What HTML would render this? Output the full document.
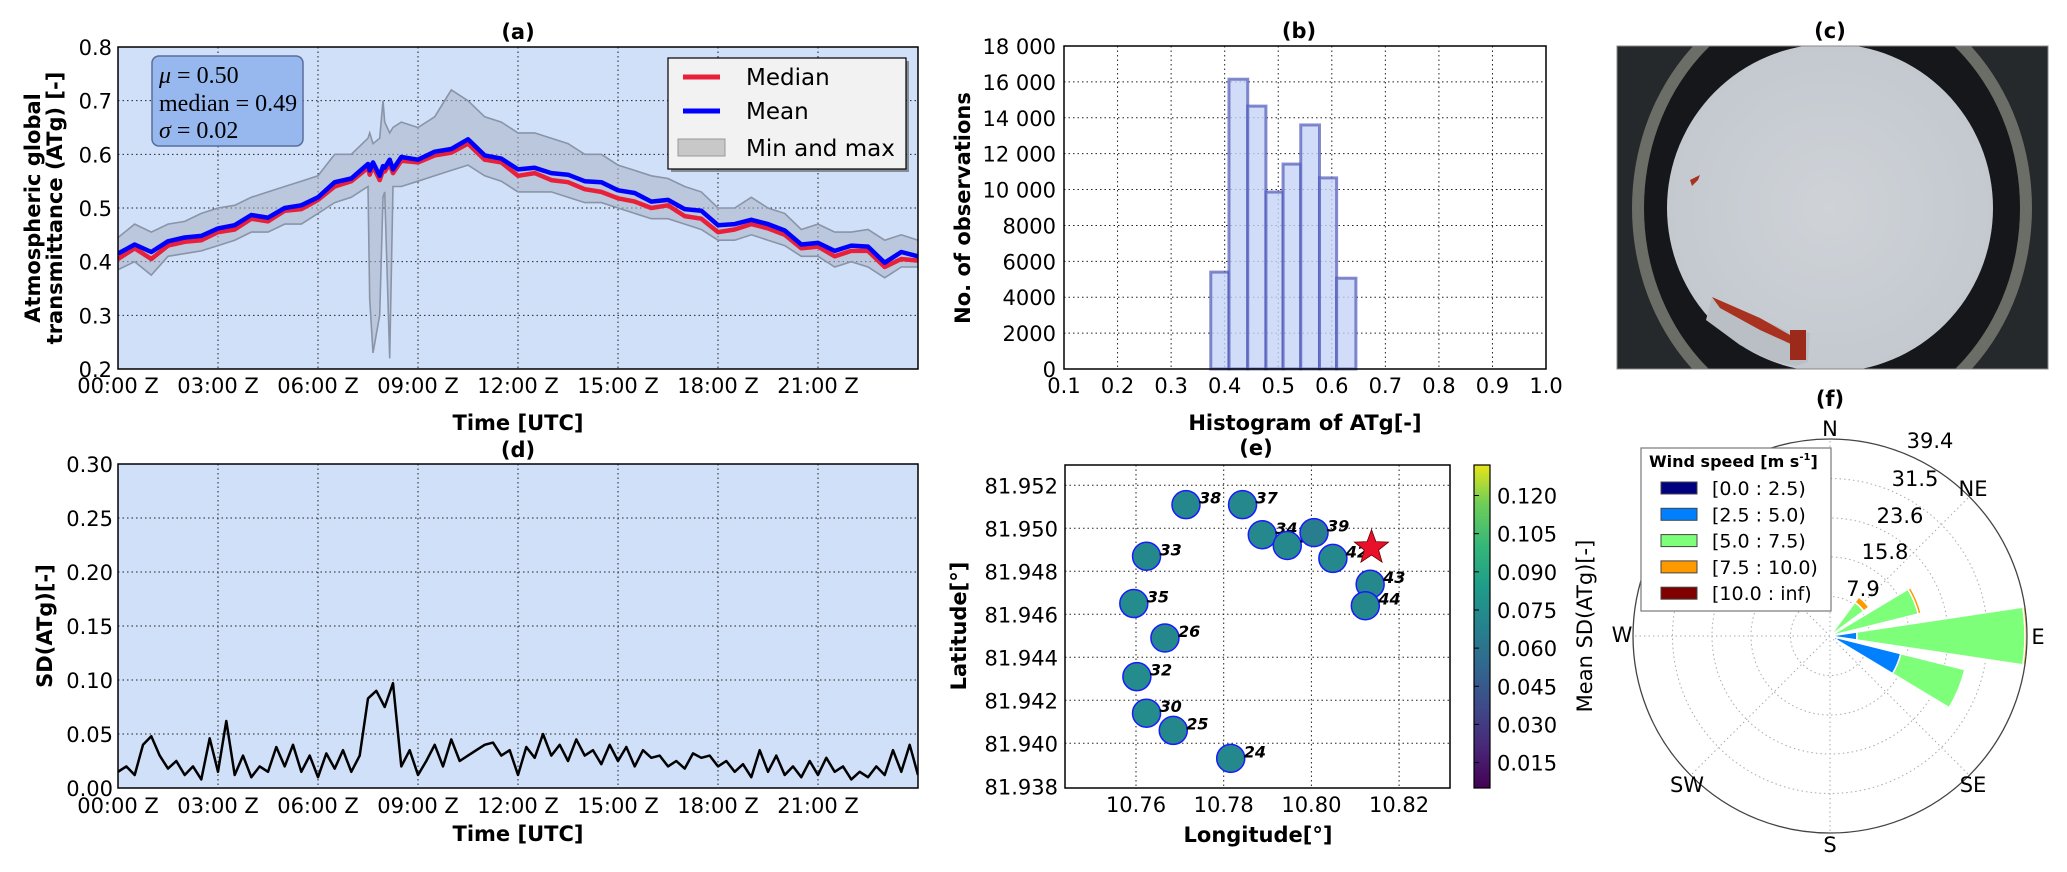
<!DOCTYPE html>
<html><head><meta charset="utf-8"><style>
html,body{margin:0;padding:0;background:#fff}
svg{display:block}
text{font-family:"DejaVu Sans","Liberation Sans",sans-serif}
text.serif{font-family:"Liberation Serif","DejaVu Serif",serif}
.t{font-size:21px;fill:#000}
.b{font-weight:bold}
</style></head><body>
<svg id="fig" width="2067" height="872" viewBox="0 0 2067 872" xmlns="http://www.w3.org/2000/svg">
<defs>
<linearGradient id="viridis" x1="0" y1="1" x2="0" y2="0">
<stop offset="0" stop-color="#440154"/><stop offset="0.13" stop-color="#482878"/><stop offset="0.25" stop-color="#3e4a89"/><stop offset="0.38" stop-color="#31688e"/><stop offset="0.5" stop-color="#26828e"/><stop offset="0.63" stop-color="#1f9e89"/><stop offset="0.75" stop-color="#35b779"/><stop offset="0.88" stop-color="#6ece58"/><stop offset="1" stop-color="#e7e419"/>
</linearGradient>
<radialGradient id="sky" cx="0.5" cy="0.5" r="0.5"><stop offset="0" stop-color="#cfd3d8"/><stop offset="1" stop-color="#c3c9cf"/></radialGradient>
<clipPath id="clipA"><rect x="118" y="47" width="800" height="322"/></clipPath>
<clipPath id="clipD"><rect x="118" y="464" width="800" height="324"/></clipPath>
<clipPath id="clipC"><rect x="1617" y="46" width="431" height="323"/></clipPath>
</defs>

<!-- panel a -->
<g id="pa">
<rect x="118" y="47" width="800" height="322" fill="#d0e0f8"/>
<g id="gridA"></g>
<g id="marksA" clip-path="url(#clipA)"></g>
<rect x="118" y="47" width="800" height="322" fill="none" stroke="#000" stroke-width="1.5"/>
<g id="ticksA"></g>
<text class="t b" x="518" y="39" text-anchor="middle" font-size="20">(a)</text>
<text class="t b" transform="translate(40,208) rotate(-90)" text-anchor="middle">Atmospheric    global</text>
<text class="t b" transform="translate(62,208) rotate(-90)" text-anchor="middle">transmittance (ATg) [-]</text>
<text class="t b" x="518" y="430" text-anchor="middle">Time [UTC]</text>
<g>
<rect x="152" y="56" width="151" height="90" rx="7" fill="#97b8ee" stroke="#5a6e9c" stroke-width="1.5"/>
<text class="serif" x="159" y="83" font-size="24"><tspan font-style="italic">μ</tspan> = 0.50</text>
<text class="serif" x="159" y="111" font-size="24">median = 0.49</text>
<text class="serif" x="159" y="138" font-size="24"><tspan font-style="italic">σ</tspan> = 0.02</text>
</g>
<g>
<rect x="671" y="61" width="238" height="111" fill="#555" opacity="0.6"/>
<rect x="668" y="58" width="238" height="111" fill="#f2f2f2" stroke="#000" stroke-width="1.2"/>
<line x1="683" y1="77" x2="720" y2="77" stroke="#e8203a" stroke-width="5"/>
<text x="746" y="85" font-size="23">Median</text>
<line x1="683" y1="111" x2="720" y2="111" stroke="#0000ff" stroke-width="5"/>
<text x="746" y="119" font-size="23">Mean</text>
<rect x="678" y="139" width="47" height="17" fill="#c8c8c8" stroke="#999"/>
<text x="746" y="156" font-size="23">Min and max</text>
</g>
</g>

<!-- panel b -->
<g id="pb">
<rect x="1064" y="46" width="482" height="323" fill="#fff"/>
<g id="gridB"></g>
<g id="marksB"></g>
<rect x="1064" y="46" width="482" height="323" fill="none" stroke="#000" stroke-width="1.5"/>
<g id="ticksB"></g>
<text class="t b" x="1299" y="38" text-anchor="middle" font-size="20">(b)</text>
<text class="t b" transform="translate(970,208) rotate(-90)" text-anchor="middle">No. of observations</text>
<text class="t b" x="1305" y="430" text-anchor="middle">Histogram of ATg[-]</text>
</g>

<!-- panel c -->
<g id="pc">
<text class="t b" x="1830" y="38" text-anchor="middle" font-size="20">(c)</text>
<g clip-path="url(#clipC)">
<rect x="1617" y="46" width="431" height="323" fill="#25292b"/>
<ellipse cx="1832" cy="208" rx="200" ry="225" fill="#6b6e66"/>
<ellipse cx="1832" cy="208" rx="188" ry="213" fill="#15171a"/>
<ellipse cx="1830" cy="208" rx="163" ry="164" fill="url(#sky)"/>
<polygon points="1712,297 1745,312 1790,332 1800,330 1810,333 1808,362 1796,366 1770,360 1740,345 1706,320" fill="#b9bfc4"/>
<polygon points="1712,297 1760,318 1790,335 1793,345 1760,330 1720,308" fill="#a8321f"/>
<rect x="1790" y="330" width="16" height="30" fill="#9b2a1a"/>
<polygon points="1690,180 1700,175 1698,180 1692,186" fill="#a8321f"/>
</g>
<rect x="1617" y="46" width="431" height="323" fill="none" stroke="#888" stroke-width="1"/>
</g>

<!-- panel d -->
<g id="pd">
<rect x="118" y="464" width="800" height="324" fill="#d0e0f8"/>
<g id="gridD"></g>
<g id="marksD" clip-path="url(#clipD)"></g>
<rect x="118" y="464" width="800" height="324" fill="none" stroke="#000" stroke-width="1.5"/>
<g id="ticksD"></g>
<text class="t b" x="518" y="457" text-anchor="middle" font-size="20">(d)</text>
<text class="t b" transform="translate(52,626) rotate(-90)" text-anchor="middle">SD(ATg)[-]</text>
<text class="t b" x="518" y="841" text-anchor="middle">Time [UTC]</text>
</g>

<!-- panel e -->
<g id="pe">
<rect x="1065" y="465" width="385" height="323" fill="#fff"/>
<g id="gridE"></g>
<g id="marksE"></g>
<rect x="1065" y="465" width="385" height="323" fill="none" stroke="#000" stroke-width="1.5"/>
<g id="ticksE"></g>
<text class="t b" x="1256" y="455" text-anchor="middle" font-size="20">(e)</text>
<text class="t b" transform="translate(966,626) rotate(-90)" text-anchor="middle">Latitude[°]</text>
<text class="t b" x="1258" y="842" text-anchor="middle">Longitude[°]</text>
<rect x="1474" y="465" width="16" height="323" fill="url(#viridis)" stroke="#000" stroke-width="1.2"/>
<g id="ticksCB"></g>
<text class="t" transform="translate(1592,626) rotate(-90)" text-anchor="middle">Mean SD(ATg)[-]</text>
</g>

<!-- panel f -->
<g id="pf">
<text class="t b" x="1830" y="406" text-anchor="middle" font-size="20">(f)</text>
<g id="gridF"></g>
<g id="marksF"></g>
<circle cx="1830" cy="636" r="197" fill="none" stroke="#444" stroke-width="1.3"/>
<g id="labelsF"></g>
<g>
<rect x="1641" y="448" width="190" height="163" fill="#fff" stroke="#777" stroke-width="1.2"/>
<text x="1649" y="467" font-size="16" font-weight="bold">Wind speed [m s<tspan font-size="10" dy="-7">-1</tspan><tspan dy="7">]</tspan></text>
<g id="legendF"></g>
</g>
</g>
</svg>

<script>
// ---------- data: panel (a) ----------
const timesA = [0,0.5,1,1.5,2,2.5,3,3.5,4,4.5,5,5.5,6,6.5,7,7.5,7.55,7.65,7.85,7.95,8,8.15,8.25,8.5,9,9.5,10,10.5,11,11.5,12,12.5,13,13.5,14,14.5,15,15.5,16,16.5,17,17.5,18,18.5,19,19.5,20,20.5,21,21.5,22,22.5,23,23.5,24];
const meanA = [.415,.432,.418,.438,.445,.448,.462,.468,.487,.482,.50,.505,.52,.548,.555,.582,.57,.585,.56,.578,.575,.59,.572,.595,.59,.605,.61,.628,.598,.592,.572,.575,.565,.562,.55,.548,.533,.528,.512,.515,.498,.495,.468,.47,.478,.47,.458,.432,.435,.42,.43,.428,.398,.418,.41];
const medianA = [.405,.425,.405,.43,.437,.44,.455,.46,.48,.475,.495,.498,.515,.54,.55,.575,.562,.578,.552,.57,.568,.582,.565,.588,.585,.598,.603,.62,.59,.585,.56,.565,.552,.548,.535,.53,.518,.512,.5,.505,.485,.48,.455,.46,.47,.462,.45,.425,.428,.41,.42,.42,.39,.405,.402];
const maxA = [.445,.47,.455,.47,.475,.49,.5,.505,.52,.53,.54,.55,.56,.6,.6,.63,.64,.62,.63,.7,.66,.64,.65,.66,.65,.67,.72,.7,.67,.66,.64,.64,.63,.62,.6,.6,.58,.57,.56,.555,.54,.53,.5,.5,.52,.5,.49,.46,.47,.455,.455,.46,.44,.45,.44];
const minA = [.385,.4,.375,.41,.415,.42,.43,.44,.455,.455,.47,.47,.49,.51,.52,.54,.33,.23,.3,.52,.53,.22,.54,.54,.55,.56,.57,.58,.56,.55,.53,.53,.53,.52,.51,.51,.5,.49,.48,.48,.47,.46,.44,.44,.45,.44,.43,.41,.41,.39,.4,.39,.37,.39,.39];
const hourTicks = [0,3,6,9,12,15,18,21];
const hourLabels = ["00:00 Z","03:00 Z","06:00 Z","09:00 Z","12:00 Z","15:00 Z","18:00 Z","21:00 Z"];
const yTicksA = [0.2,0.3,0.4,0.5,0.6,0.7,0.8];
// ---------- data: panel (b) ----------
const binEdges = [0.374,0.408,0.443,0.477,0.509,0.542,0.577,0.609,0.645];
const binCounts = [5400,16150,14650,9860,11420,13600,10650,5060];
const xTicksB = [0.1,0.2,0.3,0.4,0.5,0.6,0.7,0.8,0.9,1.0];
const yTicksB = [0,2000,4000,6000,8000,10000,12000,14000,16000,18000];
const yLabelsB = ["0","2000","4000","6000","8000","10 000","12 000","14 000","16 000","18 000"];
// ---------- data: panel (d) ----------
const sdValues = [.015,.02,.012,.04,.048,.03,.018,.025,.012,.02,.008,.046,.015,.062,.012,.03,.01,.02,.015,.038,.02,.04,.015,.03,.01,.032,.018,.035,.015,.03,.083,.09,.075,.097,.02,.035,.012,.025,.04,.02,.045,.025,.03,.035,.04,.042,.03,.035,.012,.038,.028,.05,.03,.04,.025,.045,.03,.035,.022,.04,.025,.038,.02,.035,.028,.03,.02,.025,.018,.032,.028,.03,.02,.025,.015,.022,.01,.035,.015,.03,.012,.02,.01,.025,.012,.028,.015,.02,.008,.015,.01,.02,.012,.035,.015,.04,.012];
const sdStepHours = 0.25;
const yTicksD = [0,0.05,0.10,0.15,0.20,0.25,0.30];
// ---------- data: panel (e) ----------
const stationIds = ["38","37","34","40","39","42","43","44","33","35","26","32","30","25","24"];
const stationLon = [10.7714,10.7843,10.7888,10.7945,10.8006,10.8049,10.8134,10.8123,10.7624,10.7595,10.7666,10.7602,10.7624,10.7685,10.7816];
const stationLat = [81.9511,81.9511,81.9497,81.9492,81.9498,81.9486,81.9474,81.9464,81.9487,81.9465,81.9449,81.9431,81.9414,81.9406,81.9393];
const stationSD = [0.072,0.072,0.072,0.072,0.066,0.072,0.072,0.072,0.072,0.074,0.072,0.074,0.074,0.072,0.072];
const shipLon = [10.8137];
const shipLat = [81.9491];
const lonTicks = [10.76,10.78,10.80,10.82];
const latTicks = [81.938,81.940,81.942,81.944,81.946,81.948,81.950,81.952];
const cbTicks = [0.015,0.030,0.045,0.060,0.075,0.090,0.105,0.120];
// ---------- data: panel (f) ----------
const windDirs = [45,67.5,90,112.5];
const windBin0 = [0,0,0,1.5];
const windBin1 = [0,0,5.4,13.1];
const windBin2 = [8.4,18.2,33.6,13.2];
const windBin3 = [1.3,0.6,0.4,0];
const windBin4 = [0,0,0,0];
const ringValues = [7.9,15.8,23.6,31.5,39.4];
const binLabels = ["[0.0 : 2.5)","[2.5 : 5.0)","[5.0 : 7.5)","[7.5 : 10.0)","[10.0 : inf)"];
const binColors = ["#000080","#0080ff","#7dff7a","#ff9900","#800000"];

const NS = "http://www.w3.org/2000/svg";
function mk(parent, tag, attrs, txt){
  const el = document.createElementNS(NS, tag);
  for (const k in attrs) el.setAttribute(k, attrs[k]);
  if (txt !== undefined) el.textContent = txt;
  document.getElementById(parent).appendChild(el);
  return el;
}
const dotted = {stroke:"#222","stroke-width":1,"stroke-dasharray":"1.5,3",fill:"none"};

const xA = h => 118 + h*800/24;
const yA = v => 369 - (v-0.2)/0.6*322;
const yD = v => 788 - v/0.3*324;
const xB = v => 1064 + (v-0.1)*535.6;
const yB = c => 369 - c/18000*323;
const xE = lon => 1136 + (lon-10.76)*4385;
const yE = lat => 485.3 + (81.952-lat)*21500;
const yCB = v => 788 - (v-0.005)/(0.132-0.005)*323;
const FX=1830, FY=636, FS=5;
const polar = (deg,r) => [FX + r*FS*Math.sin(deg*Math.PI/180), FY - r*FS*Math.cos(deg*Math.PI/180)];

hourTicks.forEach((h,i)=>{
  if (h>0){ const g = mk("gridA","line",Object.assign({x1:xA(h),x2:xA(h),y1:47,y2:369},dotted));
    }
  const t = mk("ticksA","text",{x:xA(h),y:393,"text-anchor":"middle",class:"t"},hourLabels[i]);
   
  const g2 = mk("gridD","line",Object.assign({x1:xA(h),x2:xA(h),y1:464,y2:788},dotted));
   
  const t2 = mk("ticksD","text",{x:xA(h),y:813,"text-anchor":"middle",class:"t"},hourLabels[i]);
   
});
yTicksA.forEach(v=>{
  const g = mk("gridA","line",Object.assign({x1:118,x2:918,y1:yA(v),y2:yA(v)},dotted));
   
  const t = mk("ticksA","text",{x:112,y:yA(v)+8,"text-anchor":"end",class:"t"},v.toFixed(1));
   
});
function linePts(xs, ys, fx, fy){ return xs.map((x,i)=>fx(x).toFixed(1)+","+fy(ys[i]).toFixed(1)).join(" "); }
const bandPts = timesA.map((t,i)=>xA(t).toFixed(1)+","+yA(maxA[i]).toFixed(1)).concat(timesA.slice().reverse().map((t,j)=>{const i=timesA.length-1-j; return xA(t).toFixed(1)+","+yA(minA[i]).toFixed(1);})).join(" ");
const band = mk("marksA","polygon",{points:bandPts,fill:"#a9b2c4","fill-opacity":"0.55",stroke:"none"});
 
const lmax = mk("marksA","polyline",{points:linePts(timesA,maxA,xA,yA),fill:"none",stroke:"#8a94a8","stroke-width":1.6});
 
const lmin = mk("marksA","polyline",{points:linePts(timesA,minA,xA,yA),fill:"none",stroke:"#8a94a8","stroke-width":1.6});
 
const lmed = mk("marksA","polyline",{points:linePts(timesA,medianA,xA,yA),fill:"none",stroke:"#e8203a","stroke-width":4.5,"stroke-linejoin":"round"});
 
const lmean = mk("marksA","polyline",{points:linePts(timesA,meanA,xA,yA),fill:"none",stroke:"#0000ff","stroke-width":4.5,"stroke-linejoin":"round"});
 

yTicksD.forEach(v=>{
  if (v>0 && v<0.3){ const g = mk("gridD","line",Object.assign({x1:118,x2:918,y1:yD(v),y2:yD(v)},dotted));
    }
  const t = mk("ticksD","text",{x:113,y:yD(v)+8,"text-anchor":"end",class:"t"},v.toFixed(2));
   
});
const sdTimes = sdValues.map((_,i)=>i*sdStepHours);
const lsd = mk("marksD","polyline",{points:linePts(sdTimes,sdValues,xA,yD),fill:"none",stroke:"#000","stroke-width":2.5,"stroke-linejoin":"round"});
 

xTicksB.forEach(v=>{
  if (v>0.1 && v<1.0){ const g = mk("gridB","line",Object.assign({x1:xB(v),x2:xB(v),y1:46,y2:369},dotted));
    }
  const t = mk("ticksB","text",{x:xB(v),y:393,"text-anchor":"middle",class:"t"},v.toFixed(1));
   
});
yTicksB.forEach((c,i)=>{
  if (c>0 && c<18000){ const g = mk("gridB","line",Object.assign({x1:1064,x2:1546,y1:yB(c),y2:yB(c)},dotted));
    }
  const t = mk("ticksB","text",{x:1056,y:yB(c)+8,"text-anchor":"end",class:"t"},yLabelsB[i]);
   
});
binCounts.forEach((c,i)=>{
  const x0 = xB(binEdges[i]), x1 = xB(binEdges[i+1]);
  const r = mk("marksB","rect",{x:x0,y:yB(c),width:x1-x0,height:yB(0)-yB(c),fill:"#c6d5f6","fill-opacity":"0.8",stroke:"#5058b8","stroke-opacity":"0.7","stroke-width":3});
   
});

lonTicks.forEach(v=>{
  const g = mk("gridE","line",Object.assign({x1:xE(v),x2:xE(v),y1:465,y2:788},dotted));
   
  const t = mk("ticksE","text",{x:xE(v),y:812,"text-anchor":"middle",class:"t"},v.toFixed(2));
   
});
latTicks.forEach(v=>{
  if (v>81.9381){ const g = mk("gridE","line",Object.assign({x1:1065,x2:1450,y1:yE(v),y2:yE(v)},dotted));
    }
  const t = mk("ticksE","text",{x:1058,y:yE(v)+8,"text-anchor":"end",class:"t"},v.toFixed(3));
   
});
function viridis(v){
  const t = Math.max(0,Math.min(1,(v-0.005)/(0.127)));
  const stops=[[68,1,84],[72,40,120],[62,74,137],[49,104,142],[38,130,142],[31,158,137],[53,183,121],[110,206,88],[231,228,25]];
  const p=t*8, i=Math.min(7,Math.floor(p)), f=p-i;
  const c=stops[i].map((a,k)=>Math.round(a+(stops[i+1][k]-a)*f));
  return "rgb("+c.join(",")+")";
}
stationIds.forEach((id,i)=>{
  const cx = xE(stationLon[i]), cy = yE(stationLat[i]);
  const c = mk("marksE","circle",{cx:cx,cy:cy,r:14,fill:viridis(stationSD[i]),stroke:"#1a1aff","stroke-width":1.5});
   
  const t = mk("marksE","text",{x:cx+13,y:cy-1,"font-size":"16","font-weight":"bold","font-style":"italic"},id);
   
});
(function(){
  const cx=xE(shipLon[0]), cy=yE(shipLat[0]), R=18, r=7.5; let pts=[];
  for(let k=0;k<10;k++){ const a=-Math.PI/2+k*Math.PI/5, rr=k%2?r:R; pts.push((cx+rr*Math.cos(a)).toFixed(1)+","+(cy+rr*Math.sin(a)).toFixed(1)); }
  const s = mk("marksE","polygon",{points:pts.join(" "),fill:"#e8102a",stroke:"#600","stroke-width":0.8});
   
})();
cbTicks.forEach(v=>{
  const l = mk("ticksCB","line",{x1:1474,x2:1479,y1:yCB(v),y2:yCB(v),stroke:"#000"});
   
  const t = mk("ticksCB","text",{x:1497,y:yCB(v)+8,class:"t"},v.toFixed(3));
   
});

ringValues.forEach((r,i)=>{
  if (i<ringValues.length-1){ const c = mk("gridF","circle",{cx:FX,cy:FY,r:r*FS,fill:"none",stroke:"#aaa","stroke-width":1,"stroke-dasharray":"1.5,3"});
    }
});
const ringLabelPos = [[1863,596],[1885,559],[1900,523],[1915,486],[1930,448]];
ringValues.forEach((r,i)=>{
  const t = mk("labelsF","text",{x:ringLabelPos[i][0],y:ringLabelPos[i][1],"text-anchor":"middle",class:"t"},r.toFixed(1));
   
});
[0,45,90,135,180,225,270,315].forEach(a=>{
  const p = polar(a,39.4);
  const l = mk("gridF","line",{x1:FX,y1:FY,x2:p[0],y2:p[1],stroke:"#aaa","stroke-width":1,"stroke-dasharray":"1.5,3"});
   
});
const compass = [["N",1830,436],["NE",1973,496],["E",2038,644],["SE",1973,792],["S",1830,852],["SW",1687,792],["W",1622,642]];
compass.forEach(c=>{
  const t = mk("labelsF","text",{x:c[1],y:c[2],"text-anchor":"middle",class:"t"},c[0]);
   
});
function wedge(dir, r0, r1, w){
  const a0=dir-w/2, a1=dir+w/2;
  const p1=polar(a0,r0), p2=polar(a0,r1), p3=polar(a1,r1), p4=polar(a1,r0);
  return "M"+p1+" L"+p2+" A"+(r1*FS)+","+(r1*FS)+" 0 0 1 "+p3+" L"+p4+" A"+(r0*FS)+","+(r0*FS)+" 0 0 0 "+p1+"Z";
}
const bins = [windBin0,windBin1,windBin2,windBin3,windBin4];
windDirs.forEach((d,i)=>{
  let acc=0;
  bins.forEach((b,k)=>{
    const v=b[i]; if (v<=0) return;
    const p = mk("marksF","path",{d:wedge(d,acc,acc+v,17),fill:binColors[k],stroke:"#fff","stroke-width":1.5});
     
    acc+=v;
  });
});
binLabels.forEach((lab,k)=>{
  const y = 488 + k*26.3;
  const r = mk("legendF","rect",{x:1661,y:y-6,width:36,height:12,fill:binColors[k],stroke:"#444","stroke-width":1});
   
  const t = mk("legendF","text",{x:1712,y:y+7,"font-size":"19"},lab);
   
});
</script>
</body></html>
